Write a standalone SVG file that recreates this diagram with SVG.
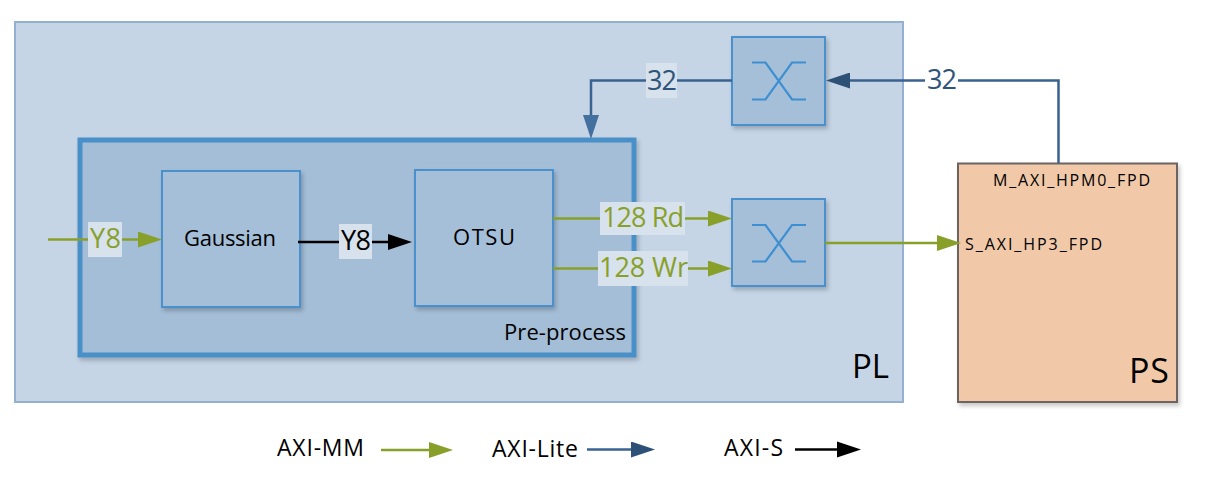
<svg xmlns="http://www.w3.org/2000/svg" width="1205" height="486" viewBox="0 0 1205 486">
<defs>
<style>
text{font-family:"Open Sans","Noto Sans","DejaVu Sans",sans-serif;}
.blk{fill:#a5bfd8;stroke:#4a90cc;stroke-width:2;}
.xs{fill:none;stroke:#3d8fd2;stroke-width:2.2;}
.lbl{fill:#d7e2ed;}
.mm{fill:none;stroke:#88a02a;stroke-width:2.5;}
.lite{fill:none;stroke:#3a6290;stroke-width:2.5;}
.s{fill:none;stroke:#000;stroke-width:2.5;}
.t{font-size:22px;fill:#000;}
.g{font-size:27px;fill:#88a02a;}
.bl{font-size:27px;fill:#2f5479;}
.port{font-size:16px;fill:#000;}
.leg{font-size:23px;fill:#000;}
</style>
<filter id="sh" x="-10%" y="-10%" width="130%" height="130%">
<feDropShadow dx="2" dy="3" stdDeviation="2" flood-color="#000" flood-opacity="0.22"/>
</filter>
<marker id="aG" viewBox="0 0 24 16" refX="0" refY="8" markerWidth="24" markerHeight="16" markerUnits="userSpaceOnUse" orient="auto"><path d="M0,0 L24,8 L0,16 z" fill="#88a02a"/></marker>
<marker id="aK" viewBox="0 0 24 16" refX="0" refY="8" markerWidth="24" markerHeight="17" markerUnits="userSpaceOnUse" orient="auto"><path d="M0,0 L24,8 L0,16 z" fill="#000"/></marker>
<marker id="aB" viewBox="0 0 24 16" refX="0" refY="8" markerWidth="24" markerHeight="16" markerUnits="userSpaceOnUse" orient="auto"><path d="M0,0 L24,8 L0,16 z" fill="#2d5077"/></marker>
<marker id="aB2" viewBox="0 0 24 16" refX="0" refY="8" markerWidth="24" markerHeight="16" markerUnits="userSpaceOnUse" orient="auto"><path d="M0,0 L24,8 L0,16 z" fill="#4470a0"/></marker>
</defs>
<rect width="1205" height="486" fill="#fff"/>

<g id="PL">
<rect x="15" y="22" width="888" height="380" fill="#c5d5e6" stroke="#93b0d3" stroke-width="2"/>
<text x="852" y="378" font-size="33" fill="#000" textLength="37" lengthAdjust="spacing">PL</text>
</g>

<g id="preprocess">
<rect x="80" y="140" width="554" height="215" fill="#a4bed8" stroke="#4a8fc8" stroke-width="5" filter="url(#sh)"/>
<text class="t" x="504" y="340" textLength="122" lengthAdjust="spacing">Pre-process</text>
</g>

<g id="gaussian">
<rect class="blk" x="162" y="171" width="138" height="136" filter="url(#sh)"/>
<text class="t" x="184" y="246" textLength="92" lengthAdjust="spacing">Gaussian</text>
</g>

<g id="otsu">
<rect class="blk" x="415" y="170" width="138" height="136" filter="url(#sh)"/>
<text class="t" x="453" y="245" textLength="62" lengthAdjust="spacing">OTSU</text>
</g>

<g id="xbar_top">
<rect class="blk" x="732" y="37" width="93" height="88" filter="url(#sh)"/>
<path class="xs" d="M752,62.5 H765.5 L792,99.5 H806 M752,99.5 H765.5 L792,62.5 H806"/>
</g>

<g id="xbar_bottom">
<rect class="blk" x="732" y="199" width="93" height="87" filter="url(#sh)"/>
<path class="xs" d="M752,225 H765.5 L792,261.5 H806 M752,261.5 H765.5 L792,225 H806"/>
</g>

<g id="PS">
<rect x="958" y="163.5" width="219" height="238.5" fill="#f1c9a9" stroke="#6d6460" stroke-width="2" filter="url(#sh)"/>
<text class="port" x="993" y="186" textLength="157" lengthAdjust="spacing">M_AXI_HPM0_FPD</text>
<text class="port" x="965" y="250" textLength="137" lengthAdjust="spacing">S_AXI_HP3_FPD</text>
<text x="1129" y="383" font-size="34" fill="#000" textLength="40" lengthAdjust="spacing">PS</text>
</g>

<g id="connectors">
<path class="mm" d="M48,239.5 H138" marker-end="url(#aG)"/>
<path class="s" d="M298,242 H388" marker-end="url(#aK)"/>
<path class="mm" d="M553,218.5 H708" marker-end="url(#aG)"/>
<path class="mm" d="M553,268.5 H708" marker-end="url(#aG)"/>
<path class="mm" d="M825,243 H937" marker-end="url(#aG)"/>
<path class="lite" d="M1058.5,163 V80.5 H850" marker-end="url(#aB)"/>
<path class="lite" d="M732,80.5 H591 V115" marker-end="url(#aB2)"/>

<rect class="lbl" x="88" y="222" width="34" height="35"/>
<text class="g" x="90" y="248" textLength="31" lengthAdjust="spacing">Y8</text>
<rect class="lbl" x="339" y="224" width="33" height="35"/>
<text x="341" y="250" font-size="27" fill="#000" textLength="30" lengthAdjust="spacing">Y8</text>
<rect class="lbl" x="600" y="202" width="85" height="33"/>
<text class="g" x="602" y="227" textLength="82" lengthAdjust="spacing">128 Rd</text>
<rect class="lbl" x="598" y="251" width="90" height="35"/>
<text class="g" x="599" y="277" textLength="89" lengthAdjust="spacing">128 Wr</text>
<rect class="lbl" x="646" y="63" width="31" height="35"/>
<text class="bl" x="647" y="89.5" textLength="30" lengthAdjust="spacing">32</text>
<rect x="925" y="64" width="33" height="34" fill="#fff"/>
<text class="bl" x="927" y="89" textLength="30" lengthAdjust="spacing">32</text>
</g>

<g id="legend">
<text class="leg" x="277" y="456" textLength="87" lengthAdjust="spacing">AXI-MM</text>
<path class="mm" d="M381,450 H429" marker-end="url(#aG)"/>
<text class="leg" x="492" y="457" textLength="86" lengthAdjust="spacing">AXI-Lite</text>
<path class="lite" d="M587,449.5 H631" stroke="#2f5479" marker-end="url(#aB)"/>
<text class="leg" x="724" y="456" textLength="59" lengthAdjust="spacing">AXI-S</text>
<path class="s" d="M795,449.5 H837" marker-end="url(#aK)"/>
</g>
</svg>
